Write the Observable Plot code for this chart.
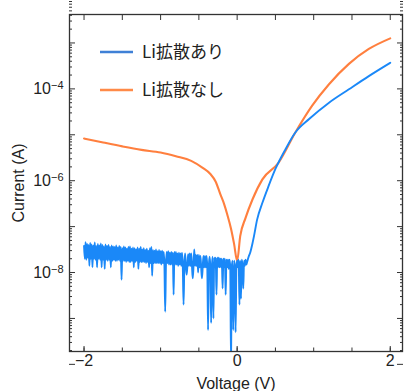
<!DOCTYPE html>
<html><head><meta charset="utf-8">
<script src="https://cdn.jsdelivr.net/npm/d3@7"></script>
<script src="https://cdn.jsdelivr.net/npm/@observablehq/plot@0.6"></script>
<style>
body{margin:0;background:#fff}
#chart{position:relative;width:405px;height:391px;overflow:hidden}
</style>
</head><body><div id="chart"></div>
<script>
// ---- data ----
const seriesNames = ["Li拡散あり", "Li拡散なし"];

// noisy reverse-bias part of "Li拡散あり" sampled every 0.01 V (-2.00 .. 0.12)
const blueNoisyStart = -2.00;
const blueNoisyStep = 0.01;
const blueNoisyCurrent = [
 3.8e-8,2.0e-8,4.6e-8,1.9e-8,4.2e-8,2.1e-8,4.0e-8,1.4e-8,4.4e-8,2.0e-8,
 4.1e-8,1.3e-8,3.9e-8,2.0e-8,4.5e-8,1.9e-8,3.8e-8,1.3e-8,4.2e-8,2.0e-8,
 3.9e-8,1.9e-8,4.3e-8,1.3e-8,4.0e-8,1.9e-8,3.7e-8,1.2e-8,4.1e-8,1.9e-8,
 3.8e-8,1.8e-8,4.0e-8,1.9e-8,3.6e-8,1.3e-8,3.9e-8,1.8e-8,3.7e-8,1.9e-8,
 3.6e-8,1.8e-8,3.9e-8,1.8e-8,3.5e-8,1.9e-8,3.8e-8,1.8e-8,3.6e-8,7.0e-9,
 3.4e-8,1.8e-8,3.7e-8,1.8e-8,3.5e-8,1.7e-8,3.3e-8,1.8e-8,3.6e-8,1.7e-8,
 3.7e-8,1.7e-8,3.3e-8,1.8e-8,3.5e-8,1.3e-8,3.4e-8,1.7e-8,3.2e-8,1.8e-8,
 3.5e-8,1.2e-8,3.3e-8,1.7e-8,3.6e-8,1.7e-8,3.2e-8,1.7e-8,3.4e-8,1.7e-8,
 3.1e-8,1.6e-8,3.3e-8,1.7e-8,3.0e-8,1.3e-8,3.4e-8,1.6e-8,3.6e-8,8.5e-9,
 3.1e-8,1.6e-8,3.0e-8,1.6e-8,3.2e-8,1.6e-8,2.9e-8,1.6e-8,3.1e-8,1.6e-8,
 2.9e-8,1.5e-8,3.0e-8,1.6e-8,2.8e-8,1.5e-8,1.4e-9,1.5e-8,2.8e-8,1.6e-8,
 2.9e-8,1.5e-8,2.7e-8,1.5e-8,2.8e-8,1.5e-8,2.7e-8,3.3e-9,2.8e-8,1.5e-8,
 2.8e-8,1.5e-8,2.6e-8,1.4e-8,2.7e-8,1.5e-8,2.6e-8,1.4e-8,2.7e-8,1.4e-8,
 2.0e-9,1.4e-8,2.6e-8,1.4e-8,9.0e-9,1.4e-8,2.5e-8,1.4e-8,2.6e-8,1.4e-8,
 2.6e-8,1.4e-8,7.5e-9,1.4e-8,3.2e-8,1.4e-8,2.4e-8,1.4e-8,2.4e-8,1.0e-8,
 2.4e-8,1.3e-8,2.3e-8,1.3e-8,7.5e-9,1.3e-8,2.3e-8,1.3e-8,2.3e-8,1.3e-8,
 2.3e-8,1.3e-8,5.6e-10,1.3e-8,2.2e-8,1.3e-8,8.0e-10,1.3e-8,2.2e-8,1.0e-9,
 2.1e-8,1.3e-8,2.1e-8,3.3e-9,2.1e-8,1.3e-8,2.1e-8,1.3e-8,2.0e-8,1.3e-8,
 2.0e-8,4.5e-9,2.0e-8,1.3e-8,2.0e-8,3.3e-9,1.9e-8,1.3e-8,1.9e-8,1.2e-8,
 1.9e-8,1.3e-8,1.0e-10,1.3e-8,1.8e-8,5.6e-10,1.8e-8,1.3e-8,5.0e-10,1.3e-8,
 1.8e-8,1.3e-8,1.9e-8,2.0e-9,1.8e-8,2.7e-9,1.9e-8,1.4e-8,4.5e-9,1.8e-8,
 1.4e-8,1.9e-8,1.5e-8
];
// smooth forward-bias part of "Li拡散あり"
const blueSmoothVoltage = [0.13,0.15,0.17,0.20,0.22,0.26,0.33,0.41,0.50,0.63,0.76,0.94,1.20,1.46,1.72,2.00];
const blueSmoothCurrent = [1.7e-8,2.2e-8,2.7e-8,4.3e-8,6.2e-8,1.4e-7,3.3e-7,7.6e-7,1.8e-6,4.8e-6,1.12e-5,2.2e-5,5.0e-5,9.8e-5,1.9e-4,3.7e-4];

const orangeVoltage = [
 -2.00,-1.75,-1.50,-1.25,-1.00,-0.80,-0.60,-0.45,-0.35,-0.28,-0.22,-0.17,-0.13,-0.08,-0.04,0.00,
 0.04,0.11,0.20,0.33,0.54,0.76,0.98,1.20,1.46,1.72,2.00
];
const orangeCurrent = [
 8.3e-6,6.8e-6,5.6e-6,4.7e-6,4.1e-6,3.4e-6,2.7e-6,1.9e-6,1.4e-6,9.5e-7,5.1e-7,3.1e-7,1.86e-7,9.0e-8,4.2e-8,1.8e-8,
 6.2e-8,1.55e-7,3.9e-7,1.07e-6,2.45e-6,1.12e-5,4.3e-5,1.26e-4,3.5e-4,7.4e-4,1.26e-3
];

const xTickLabels = [-2, 0, 2];
const xTicksAll = [-2, -1.5, -1, -0.5, 0, 0.5, 1, 1.5, 2];
const yTickLabels = [1e-8, 1e-6, 1e-4];
const yMajor = [1e-10, 1e-9, 1e-8, 1e-7, 1e-6, 1e-5, 1e-4, 1e-3];

// minor log ticks (2..9 per decade)
const yMinor = [];
for (const d of yMajor) for (let m = 2; m <= 9; m++) yMinor.push(m * d);

const blueData = blueNoisyCurrent.map((c, k) => ({v: +(blueNoisyStart + k * blueNoisyStep).toFixed(2), i: c}))
  .concat(blueSmoothVoltage.map((v, k) => ({v, i: blueSmoothCurrent[k]})));
const orangeData = orangeVoltage.map((v, k) => ({v, i: orangeCurrent[k]}));

const BLUE = "#1a88f8";
const ORANGE = "#ff7f3e";
const AX = "#333";
const FONT = "'Liberation Sans', Arial, sans-serif";

const fmtMinus = d => (d < 0 ? "\u2212" + Math.abs(d) : String(d));

const plot = Plot.plot({
  width: 405,
  height: 391,
  marginLeft: 69,
  marginRight: 3,
  marginTop: 14,
  marginBottom: 40,
  style: {fontFamily: FONT, background: "#fff", overflow: "visible"},
  x: {domain: [-2.19, 2.16]},
  y: {type: "log", domain: [Math.pow(10, -9.72), Math.pow(10, -2.38)]},
  marks: [
    Plot.line(orangeData, {x: "v", y: "i", stroke: ORANGE, strokeWidth: 2.1, curve: "monotone-x", clip: true}),
    Plot.line(blueData, {x: "v", y: "i", stroke: BLUE, strokeWidth: 1.9, curve: "monotone-x", strokeLinejoin: "round", clip: true}),
    // ticks pointing inward on all four sides
    Plot.axisY({anchor: "left", ticks: yMajor, tickSize: -6, fill: "none", stroke: AX, strokeWidth: 1}),
    Plot.axisY({anchor: "left", ticks: yMinor, tickSize: -3, fill: "none", stroke: AX, strokeWidth: 1}),
    Plot.axisY({anchor: "right", ticks: yMajor, tickSize: -6, fill: "none", stroke: AX, strokeWidth: 1}),
    Plot.axisY({anchor: "right", ticks: yMinor, tickSize: -3, fill: "none", stroke: AX, strokeWidth: 1}),
    Plot.axisX({anchor: "bottom", ticks: xTickLabels, tickSize: -5, fill: "none", stroke: AX, strokeWidth: 1}),
    Plot.axisX({anchor: "bottom", ticks: xTicksAll, tickSize: -3.5, fill: "none", stroke: AX, strokeWidth: 1}),
    Plot.axisX({anchor: "top", ticks: xTicksAll, tickSize: -5, fill: "none", stroke: AX, strokeWidth: 1}),
    // tick labels
    Plot.axisY({anchor: "left", ticks: yTickLabels, tickSize: 0, tickPadding: 6, label: null,
      fontSize: 16, fill: "#222", tickFormat: d => "10|" + Math.round(Math.log10(d))}),
    Plot.axisX({anchor: "bottom", ticks: xTickLabels, tickSize: 0, tickPadding: 3, label: null,
      fontSize: 16, fill: "#222", tickFormat: fmtMinus}),
    Plot.frame({stroke: AX, strokeWidth: 1.3})
  ]
});

// superscript exponents on the y tick labels
d3.select(plot).selectAll('g[aria-label="y-axis tick label"] text').each(function() {
  const t = d3.select(this);
  const [base, ex] = t.text().split("|");
  t.text(null);
  t.append("tspan").text(base);
  t.append("tspan").attr("dy", "-0.45em").attr("font-size", "11px")
    .text(Number(ex) < 0 ? "\u2212" + Math.abs(Number(ex)) : ex);
});

const svg = d3.select(plot);
// axis titles
svg.append("text").attr("x", 236).attr("y", 389).attr("text-anchor", "middle")
  .attr("font-family", FONT).attr("font-size", 16).attr("fill", "#222").text("Voltage (V)");
svg.append("text").attr("transform", "translate(24,183) rotate(-90)").attr("text-anchor", "middle")
  .attr("font-family", FONT).attr("font-size", 16).attr("fill", "#222").text("Current (A)");

// legend
const legendColors = ["#3f80d6", "#ff8a48"];
const legendY = [52, 90];
seriesNames.forEach((name, k) => {
  svg.append("line").attr("x1", 100).attr("x2", 133).attr("y1", legendY[k]).attr("y2", legendY[k])
    .attr("stroke", legendColors[k]).attr("stroke-width", 2.6);
  svg.append("text").attr("x", 142).attr("y", legendY[k]).attr("dy", "0.36em")
    .attr("text-anchor", "start")
    .attr("font-family", "'Noto Sans CJK JP', 'Noto Sans', sans-serif").attr("font-size", 17)
    .attr("fill", "#222").text(name);
});

document.getElementById("chart").appendChild(plot);
</script>
</body></html>
